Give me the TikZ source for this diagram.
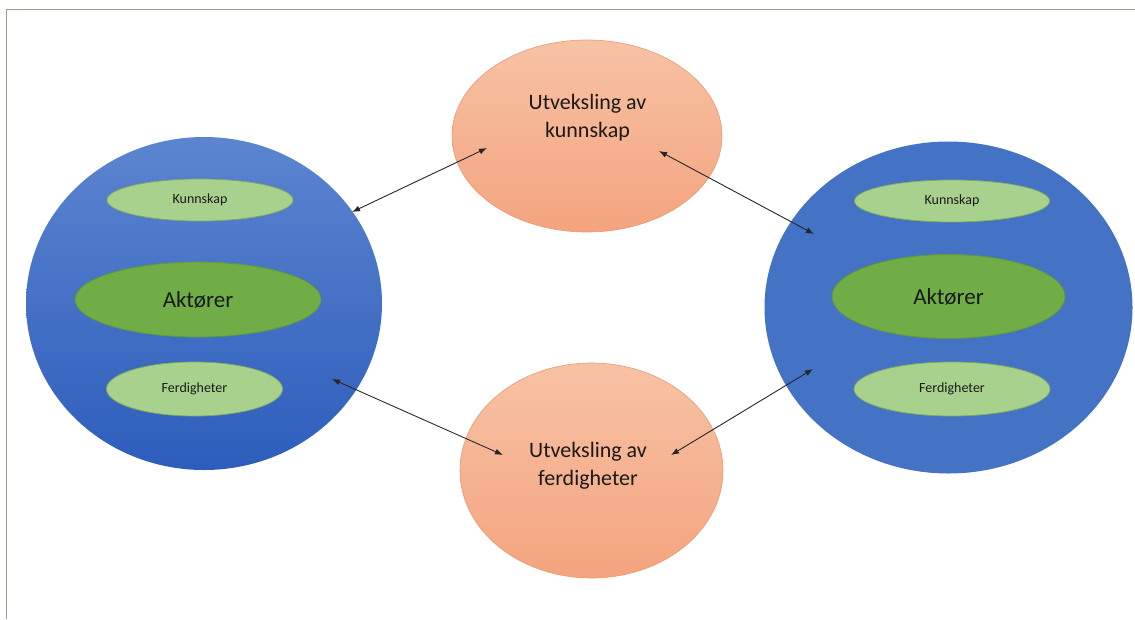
\documentclass[tikz,border=0pt]{standalone}
\usepackage{fontspec}
\setmainfont{Carlito}
\usetikzlibrary{shapes.geometric,arrows.meta}
\definecolor{frameline}{HTML}{97A487}
\definecolor{bluetop}{HTML}{5C85D0}
\definecolor{bluebot}{HTML}{2D5DBC}
\definecolor{blueflat}{HTML}{4472C4}
\definecolor{peachtop}{HTML}{F7C2A4}
\definecolor{peachbot}{HTML}{F4A47F}
\definecolor{peachrim}{HTML}{E89A70}
\definecolor{lightgreen}{HTML}{A9D18E}
\definecolor{lightrim}{HTML}{7FAE5E}
\definecolor{midgreen}{HTML}{70AD47}
\definecolor{midrim}{HTML}{5E9A38}
\definecolor{txt}{HTML}{1A1A1A}
\tikzset{
  blob/.style={ellipse, inner sep=0pt},
  smallgreen/.style={blob, fill=lightgreen, draw=lightrim, line width=0.8pt, text=txt, font=\fontsize{14}{16}\selectfont},
  biggreen/.style={blob, fill=midgreen, draw=midrim, line width=0.8pt, text=txt, font=\fontsize{23}{27}\selectfont},
  peach/.style={blob, top color=peachtop, bottom color=peachbot, draw=peachrim, line width=0.6pt},
  peachtext/.style={align=center, text=txt, font=\fontsize{22}{28}\selectfont, inner sep=0pt},
  link/.style={{Latex[length=8pt,width=6pt]}-{Latex[length=8pt,width=6pt]}, line width=0.9pt, draw=black!85},
  frame/.style={draw=frameline, line width=1.6pt}
}
\begin{document}
\begin{tikzpicture}[x=1pt,y=-1pt]
\useasboundingbox (0,0) rectangle (1135,619);
% frame lines
\coordinate (fa) at (6.5,619);
\coordinate (fb) at (6.5,9.5);
\coordinate (fc) at (1135,9.5);
\draw[frame] (fa) -- (fb) -- (fc);
% big circles
\node[blob, top color=bluetop, bottom color=bluebot, minimum width=356pt, minimum height=333pt] (L) at (204,303.5) {};
\node[blob, fill=blueflat, minimum width=368pt, minimum height=332pt] (R) at (948.5,307.5) {};
% inner ellipses left
\node[smallgreen, minimum width=186pt, minimum height=42pt] (LK) at (200,200) {Kunnskap};
\node[biggreen, minimum width=246pt, minimum height=75pt] (LA) at (198,299.5) {Aktører};
\node[smallgreen, minimum width=176pt, minimum height=54pt] (LF) at (194.5,389) {Ferdigheter};
% inner ellipses right
\node[smallgreen, minimum width=195pt, minimum height=42pt] (RK) at (952,201) {Kunnskap};
\node[biggreen, minimum width=233pt, minimum height=84pt] (RA) at (948.5,296.5) {Aktører};
\node[smallgreen, minimum width=196pt, minimum height=54pt] (RF) at (952,389) {Ferdigheter};
% exchange ellipses
\node[peach, minimum width=270pt, minimum height=192pt] (T) at (587,136) {};
\node[peachtext] (TT) at (587.5,118) {Utveksling av\\kunnskap};
\node[peach, minimum width=263pt, minimum height=215pt] (B) at (591.5,470.5) {};
\node[peachtext] (BT) at (588,466) {Utveksling av\\ferdigheter};
% arrow end points
\coordinate (p1) at (352,212);
\coordinate (q1) at (487,148);
\coordinate (p2) at (659,151);
\coordinate (q2) at (814,234);
\coordinate (p3) at (332,379);
\coordinate (q3) at (503,455);
\coordinate (p4) at (813,369);
\coordinate (q4) at (671,455);
\draw[link] (p1) -- (q1);
\draw[link] (p2) -- (q2);
\draw[link] (p3) -- (q3);
\draw[link] (p4) -- (q4);
\end{tikzpicture}
\end{document}
